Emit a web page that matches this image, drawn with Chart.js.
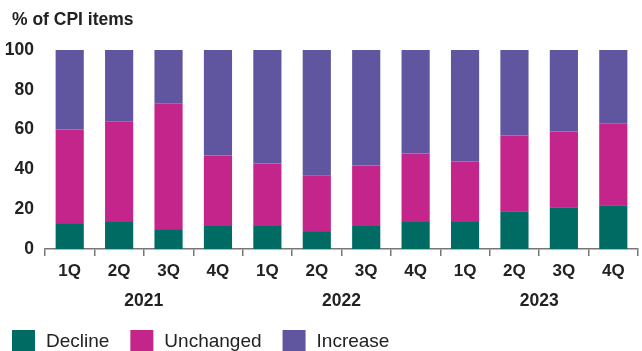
<!DOCTYPE html>
<html>
<head>
<meta charset="utf-8">
<script src="https://cdn.jsdelivr.net/npm/chart.js@4.4.1/dist/chart.umd.min.js"></script>
<style>
  html, body { margin: 0; padding: 0; background: #fff; }
  #wrap { width: 642px; height: 351px; position: relative; }
</style>
</head>
<body>
<div id="wrap"><canvas id="cpi-chart"></canvas></div>
<script>
// ---- Data ----
var QUARTERS = ['1Q', '2Q', '3Q', '4Q', '1Q', '2Q', '3Q', '4Q', '1Q', '2Q', '3Q', '4Q'];
var YEARS = ['2021', '2022', '2023'];
var DECLINE = [13, 14, 10, 12, 12, 9, 12, 14, 14, 19, 21, 22];
var UNCHANGED = [47, 50, 63, 35, 31, 28, 30, 34, 30, 38, 38, 41];
var INCREASE = [40, 36, 27, 53, 57, 63, 58, 52, 56, 43, 41, 37];
var Y_TICKS = [0, 20, 40, 60, 80, 100];

// ---- Palette ----
var TEAL = '#006B63';
var MAGENTA = '#C4258A';
var PURPLE = '#6056A0';
var INK = '#222222';
var AXIS = '#777777';
var FONT = "'Liberation Sans', Arial, sans-serif";

var SERIES = [
  { label: 'Decline', data: DECLINE, color: TEAL },
  { label: 'Unchanged', data: UNCHANGED, color: MAGENTA },
  { label: 'Increase', data: INCREASE, color: PURPLE }
];

// title + legend drawn on the canvas
var decorPlugin = {
  id: 'decor',
  afterDraw: function (chart) {
    var ctx = chart.ctx;
    ctx.save();
    ctx.fillStyle = INK;
    ctx.textBaseline = 'alphabetic';
    ctx.textAlign = 'left';
    ctx.font = 'bold 17.5px ' + FONT;
    ctx.fillText('% of CPI items', 12, 25);

    ctx.font = '19px ' + FONT;
    var x = 12;
    SERIES.forEach(function (s) {
      ctx.fillStyle = s.color;
      ctx.fillRect(x, 330, 23, 22);
      x += 23 + 11;
      ctx.fillStyle = INK;
      ctx.fillText(s.label, x, 347);
      x += ctx.measureText(s.label).width + 21;
    });
    ctx.restore();
  }
};

new Chart(document.getElementById('cpi-chart').getContext('2d'), {
  type: 'bar',
  data: {
    labels: QUARTERS,
    datasets: SERIES.map(function (s) {
      return {
        label: s.label,
        data: s.data,
        backgroundColor: s.color,
        borderWidth: 0,
        barPercentage: 0.57,
        categoryPercentage: 1
      };
    })
  },
  options: {
    responsive: true,
    maintainAspectRatio: false,
    animation: false,
    layout: { padding: { top: 50, right: 4, bottom: 36, left: 0 } },
    plugins: {
      legend: { display: false },
      tooltip: { enabled: false }
    },
    scales: {
      x: {
        stacked: true,
        grid: {
          display: true,
          drawOnChartArea: false,
          drawTicks: true,
          tickLength: 7,
          offset: true,
          color: AXIS,
          lineWidth: 1.5
        },
        border: { display: true, color: AXIS, width: 1.5 },
        ticks: {
          color: INK,
          padding: 5,
          maxRotation: 0,
          autoSkip: false,
          font: { family: FONT, size: 17, weight: 'bold' }
        },
        afterFit: function (scale) { scale.height = 34; }
      },
      x2: {
        type: 'category',
        labels: YEARS,
        position: 'bottom',
        grid: { display: false, drawTicks: false },
        border: { display: false },
        ticks: {
          color: INK,
          padding: 8,
          maxRotation: 0,
          font: { family: FONT, size: 17.5, weight: 'bold' }
        },
        afterFit: function (scale) { scale.height = 32; }
      },
      y: {
        stacked: true,
        min: 0,
        max: 100,
        grid: { display: false },
        border: { display: false },
        afterBuildTicks: function (scale) {
          scale.ticks = Y_TICKS.map(function (v) { return { value: v }; });
        },
        ticks: {
          color: INK,
          padding: 3,
          font: { family: FONT, size: 17.5, weight: 'bold' }
        },
        afterFit: function (scale) { scale.width = 45; }
      }
    }
  },
  plugins: [decorPlugin]
});
</script>
</body>
</html>
